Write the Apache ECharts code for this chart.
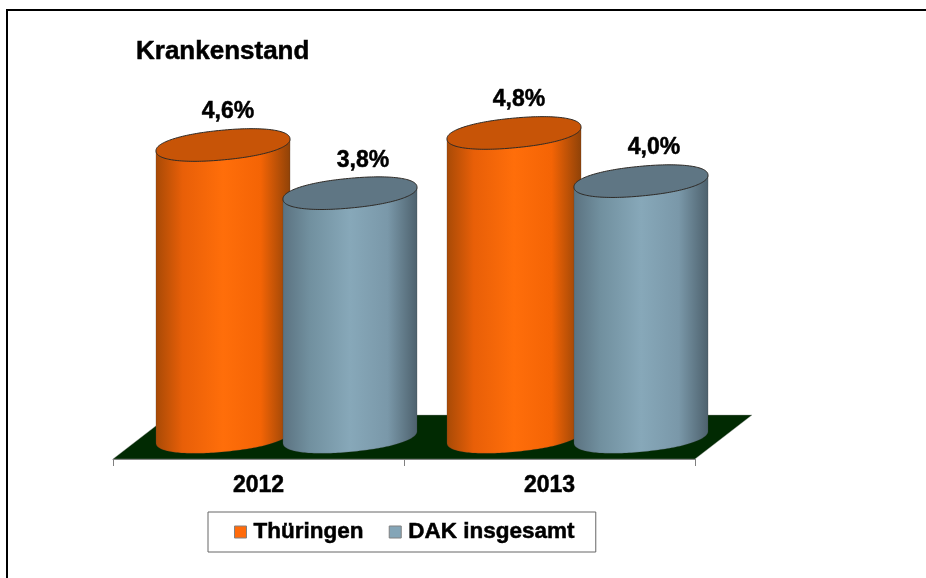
<!DOCTYPE html>
<html>
<head>
<meta charset="utf-8">
<style>html,body{margin:0;padding:0;background:#fff}#c{width:926px;height:578px}</style>
<script src="https://cdn.jsdelivr.net/npm/echarts@6/dist/echarts.min.js"></script>
</head>
<body>
<div id="c"></div>
<script>
const categories = ['2012', '2013'];
const thueringen = [4.6, 4.8];
const dakInsgesamt = [3.8, 4.0];
const seriesNames = ['Thüringen', 'DAK insgesamt'];
const titleText = 'Krankenstand';

const FONT = '"Liberation Sans", Arial, sans-serif';
const AMIN = -0.25, AMAX = 5.58;

const styles = [
  { base: '#ff6a0a', top: '#c75407', stops: ['#a84a06', '#e85f08', '#ff6e0a', '#f46405', '#8f4208'], off: -0.2182, dx: 5 },
  { base: '#84a5b7', top: '#5f7684', stops: ['#5b7280', '#71909f', '#87a8b9', '#7a98a9', '#4d616d'], off: 0.2182, dx: 13 }
];

const P = 0.92; // slightly fuller than a true ellipse, as in the picture
function spow(v) { return Math.sign(v) * Math.pow(Math.abs(v), P); }
function outline(cx, cy, a, b, th) {
  const pts = [];
  const n = 180;
  for (let i = 0; i < n; i++) {
    const t = 2 * Math.PI * i / n;
    const u = a * spow(Math.cos(t)), v = b * spow(Math.sin(t));
    pts.push([cx + u * Math.cos(th) - v * Math.sin(th), cy + u * Math.sin(th) + v * Math.cos(th)]);
  }
  return pts;
}
function extremes(pts) {
  let iR = 0, iL = 0;
  pts.forEach((p, i) => {
    if (p[0] > pts[iR][0]) iR = i;
    if (p[0] < pts[iL][0]) iL = i;
  });
  return { iR, iL };
}

function cylinder(idx) {
  const s = styles[idx];
  return function (params, api) {
    const band = api.size([1, 0])[0];
    const top = api.coord([api.value(0), api.value(1)]);
    const bottom = api.coord([api.value(0), AMIN]);
    const cx = top[0] + s.off * band;
    const a = 0.2313 * band, b = a * 0.22, th = -5.4 * Math.PI / 180;
    const topPts = outline(cx, top[1], a, b, th);
    const botPts = outline(cx, bottom[1], a, b, th);
    const { iR, iL } = extremes(topPts);
    const lower = [];
    for (let i = iR; ; i = (i + 1) % botPts.length) {
      lower.push(botPts[i]);
      if (i === iL) break;
    }
    const body = [topPts[iL]].concat(lower.slice().reverse(), [topPts[iR]]);
    const n = s.stops.length - 1;
    return {
      type: 'group',
      children: [
        {
          type: 'polygon',
          shape: { points: body },
          style: {
            fill: {
              type: 'linear', x: 0, y: 0, x2: 1, y2: 0,
              colorStops: [
                { offset: 0, color: s.stops[0] },
                { offset: 0.2, color: s.stops[1] },
                { offset: 0.5, color: s.stops[2] },
                { offset: 0.78, color: s.stops[3] },
                { offset: 1, color: s.stops[n] }
              ]
            },
            stroke: 'rgba(60,60,60,0.35)', lineWidth: 0.6
          }
        },
        {
          type: 'polygon',
          shape: { points: topPts },
          style: { fill: s.top, stroke: '#2e2a26', lineWidth: 1 }
        },
        {
          type: 'text',
          style: {
            x: cx + s.dx, y: top[1] - 33,
            text: api.value(1).toFixed(1).replace('.', ',') + '%',
            fill: '#000', font: 'bold 23px ' + FONT,
            stroke: '#000', lineWidth: 0.5,
            align: 'center', verticalAlign: 'middle'
          }
        }
      ]
    };
  };
}

function floorItem(params) {
  const c = params.coordSys;
  const fx = c.x - 28, fr = c.x + c.width - 28, by = c.y + c.height + 22;
  return {
    type: 'polygon',
    shape: { points: [[fx, by], [fr, by], [fr + 57, by - 44], [fx + 57, by - 44]] },
    style: { fill: '#012a02', stroke: '#9a9a9a', lineWidth: 0.4 },
    z2: 0
  };
}

const chart = echarts.init(document.getElementById('c'), null, { renderer: 'canvas' });
chart.setOption({
  animation: false,
  backgroundColor: '#fff',
  title: {
    text: titleText, left: 136, top: 38, padding: 0,
    textStyle: { fontFamily: FONT, fontWeight: 'bold', fontSize: 26, color: '#000', lineHeight: 28,
      textBorderColor: '#000', textBorderWidth: 0.5 }
  },
  legend: {
    data: seriesNames, orient: 'horizontal', left: 208, top: 512,
    padding: [8, 21, 8, 26], itemGap: 25, itemWidth: 12, itemHeight: 12,
    borderColor: '#666', borderWidth: 1, backgroundColor: '#fff',
    icon: 'rect',
    itemStyle: { borderColor: '#808080', borderWidth: 1 },
    textStyle: { fontFamily: FONT, fontWeight: 'bold', fontSize: 22.5, color: '#000', padding: [0, 0, 0, 2],
      lineHeight: 24, textBorderColor: '#000', textBorderWidth: 0.5 }
  },
  grid: [
    { left: 113, width: 582, top: 86, height: 373 },
    { left: 141, width: 582, top: 86, height: 351 }
  ],
  xAxis: [
    {
      type: 'category', gridIndex: 0, data: categories,
      axisLine: { lineStyle: { color: '#808080', width: 1 } },
      axisTick: { show: true, alignWithLabel: false, length: 7, lineStyle: { color: '#808080' } },
      axisLabel: { fontFamily: FONT, fontWeight: 'bold', fontSize: 23, color: '#000', margin: 15,
        textBorderColor: '#000', textBorderWidth: 0.5 }
    },
    { type: 'category', gridIndex: 1, data: categories, show: false }
  ],
  yAxis: [
    { type: 'value', gridIndex: 0, min: 0, max: 1, show: false },
    { type: 'value', gridIndex: 1, min: AMIN, max: AMAX, show: false }
  ],
  series: [
    {
      type: 'custom', name: 'floor', xAxisIndex: 1, yAxisIndex: 1, z: 1,
      data: [[0, 0]], renderItem: floorItem, silent: true
    },
    {
      type: 'custom', name: seriesNames[0], xAxisIndex: 1, yAxisIndex: 1, z: 2,
      itemStyle: { color: styles[0].base }, renderItem: cylinder(0),
      encode: { x: 0, y: 1 }, clip: false,
      data: categories.map((c, i) => [i, thueringen[i]])
    },
    {
      type: 'custom', name: seriesNames[1], xAxisIndex: 1, yAxisIndex: 1, z: 3,
      itemStyle: { color: styles[1].base }, renderItem: cylinder(1),
      encode: { x: 0, y: 1 }, clip: false,
      data: categories.map((c, i) => [i, dakInsgesamt[i]])
    }
  ],
  graphic: [
    { type: 'line', silent: true, shape: { x1: 6, y1: 10, x2: 926, y2: 10 }, style: { stroke: '#000', lineWidth: 2 } },
    { type: 'line', silent: true, shape: { x1: 7, y1: 9, x2: 7, y2: 578 }, style: { stroke: '#000', lineWidth: 2 } }
  ]
});
</script>
</body>
</html>
